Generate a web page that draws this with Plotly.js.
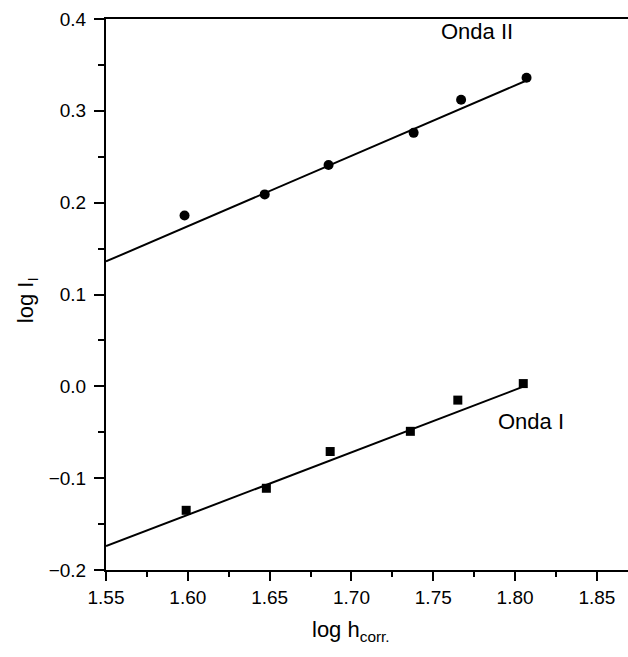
<!DOCTYPE html>
<html>
<head>
<meta charset="utf-8">
<script src="https://cdn.plot.ly/plotly-3.0.1.min.js"></script>
<style>html,body{margin:0;padding:0;background:#fff;}#chart{width:628px;height:657px;}</style>
</head>
<body>
<div id="chart"></div>
<script>
// Onda II (circles)
const ondaIIx = [1.598, 1.647, 1.686, 1.738, 1.767, 1.807];
const ondaIIy = [0.186, 0.209, 0.241, 0.276, 0.312, 0.336];
// Onda I (squares)
const ondaIx = [1.599, 1.648, 1.687, 1.736, 1.765, 1.805];
const ondaIy = [-0.135, -0.111, -0.071, -0.049, -0.015, 0.003];
// Fitted lines (endpoints)
const fitIIx = [1.55, 1.807];
const fitIIy = [0.136, 0.333];
const fitIx = [1.55, 1.807];
const fitIy = [-0.174, 0.001];
// Labels
const xTitle = 'log h<sub>corr.</sub>';
const yTitle = 'log I<sub>I</sub>';
const labelII = 'Onda II';
const labelI = 'Onda I';

const fontFam = '"Liberation Sans", Arial, sans-serif';

const traces = [
  {x: fitIIx, y: fitIIy, mode: 'lines', line: {color: '#000', width: 2}, showlegend: false, hoverinfo: 'skip'},
  {x: fitIx, y: fitIy, mode: 'lines', line: {color: '#000', width: 2}, showlegend: false, hoverinfo: 'skip'},
  {x: ondaIIx, y: ondaIIy, mode: 'markers', name: labelII, marker: {symbol: 'circle', size: 10, color: '#000'}, showlegend: false},
  {x: ondaIx, y: ondaIy, mode: 'markers', name: labelI, marker: {symbol: 'square', size: 9, color: '#000'}, showlegend: false}
];

const layout = {
  width: 628, height: 657,
  margin: {l: 106, r: 0, t: 19, b: 87},
  paper_bgcolor: '#fff', plot_bgcolor: '#fff',
  font: {family: fontFam, color: '#000', size: 19},
  xaxis: {
    range: [1.55, 1.869], dtick: 0.05, tick0: 1.55, tickformat: '.2f',
    showgrid: false, zeroline: false, showline: true, linecolor: '#000', linewidth: 2, mirror: true,
    ticks: 'outside', ticklen: 9, tickwidth: 2, tickcolor: '#000',
    minor: {dtick: 0.025, ticks: 'outside', ticklen: 5, tickwidth: 2, tickcolor: '#000', showgrid: false},
    tickfont: {size: 19, family: fontFam}
  },
  yaxis: {
    range: [-0.2, 0.4], dtick: 0.1, tick0: 0, tickformat: '.1f',
    showgrid: false, zeroline: false, showline: true, linecolor: '#000', linewidth: 2,
    ticks: 'outside', ticklen: 10, tickwidth: 2, tickcolor: '#000',
    minor: {dtick: 0.05, ticks: 'outside', ticklen: 6, tickwidth: 2, tickcolor: '#000', showgrid: false},
    tickfont: {size: 19, family: fontFam},
    ticklabelstandoff: 4
  },
  annotations: [
    {x: 1.777, y: 0.386, xref: 'x', yref: 'y', text: labelII, showarrow: false, font: {size: 22, family: fontFam}},
    {x: 1.810, y: -0.038, xref: 'x', yref: 'y', text: labelI, showarrow: false, font: {size: 22, family: fontFam}},
    {x: 0.469, y: -0.11, xref: 'paper', yref: 'paper', xanchor: 'center', yanchor: 'middle', text: xTitle, showarrow: false, font: {size: 22, family: fontFam}},
    {x: -0.151, y: 0.49, xref: 'paper', yref: 'paper', xanchor: 'center', yanchor: 'middle', textangle: -90, text: yTitle, showarrow: false, font: {size: 22, family: fontFam}}
  ]
};

Plotly.newPlot('chart', traces, layout, {displayModeBar: false, staticPlot: true});
</script>
</body>
</html>
